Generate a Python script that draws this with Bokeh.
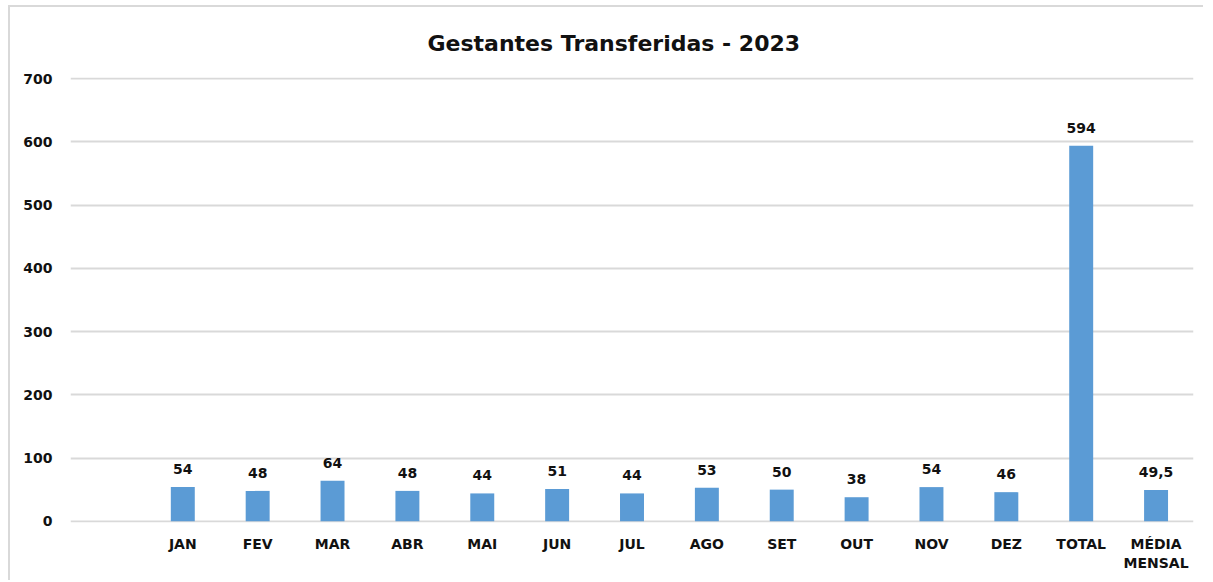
from bokeh.plotting import figure
from bokeh.models import FactorRange, Range1d, ColumnDataSource, FixedTicker, Title
from bokeh.core.properties import value
from bokeh.embed import file_html
from bokeh.resources import INLINE

categories = ["", "JAN", "FEV", "MAR", "ABR", "MAI", "JUN", "JUL", "AGO", "SET",
              "OUT", "NOV", "DEZ", "TOTAL", "MÉDIA\nMENSAL"]
bar_categories = categories[1:]
values = [54, 48, 64, 48, 44, 51, 44, 53, 50, 38, 54, 46, 594, 49.5]
value_labels = ["54", "48", "64", "48", "44", "51", "44", "53", "50", "38", "54", "46", "594", "49,5"]
y_ticks = [0, 100, 200, 300, 400, 500, 600, 700]
title_text = "Gestantes Transferidas - 2023"

FONT = "DejaVu Sans"

src = ColumnDataSource(dict(cat=bar_categories, val=values, lab=value_labels))

p = figure(width=1195, height=575, x_range=FactorRange(factors=categories, range_padding=0),
           y_range=Range1d(-2, 702), output_backend="svg", toolbar_location=None,
           min_border_left=60, min_border_right=12, min_border_top=70, min_border_bottom=60)
p.styles = {"border-top": "2px solid #d9d9d9", "border-left": "2px solid #d9d9d9",
            "margin-left": "8px", "margin-top": "5px"}
p.x_range.factor_padding = 0

t = Title(text=title_text, align="left", offset=357, standoff=43,
          text_font=FONT, text_font_size="22px", text_font_style="bold", text_color="#111111")
p.add_layout(t, "above")

p.vbar(x="cat", top="val", width=0.32, source=src, color="#5B9BD5", line_color=None)
p.text(x="cat", y="val", text="lab", source=src, text_align="center", text_baseline="alphabetic",
       y_offset=-18, text_font=value(FONT), text_font_size="14px", text_font_style="bold",
       text_color="#111111")

p.outline_line_color = None
p.xgrid.grid_line_color = None
p.ygrid.grid_line_color = "#d9d9d9"
p.ygrid.grid_line_width = 2
p.yaxis.ticker = FixedTicker(ticks=y_ticks)

for ax in (p.xaxis, p.yaxis):
    ax.axis_line_color = None
    ax.major_tick_line_color = None
    ax.minor_tick_line_color = None
    ax.major_label_text_font = FONT
    ax.major_label_text_font_style = "bold"
    ax.major_label_text_font_size = "14px"
    ax.major_label_text_color = "#111111"

p.yaxis.major_label_standoff = 12
p.xaxis.major_label_standoff = 7
p.xaxis.group_text_font_size = "14px"

open("out.html", "w").write(file_html(p, INLINE))
